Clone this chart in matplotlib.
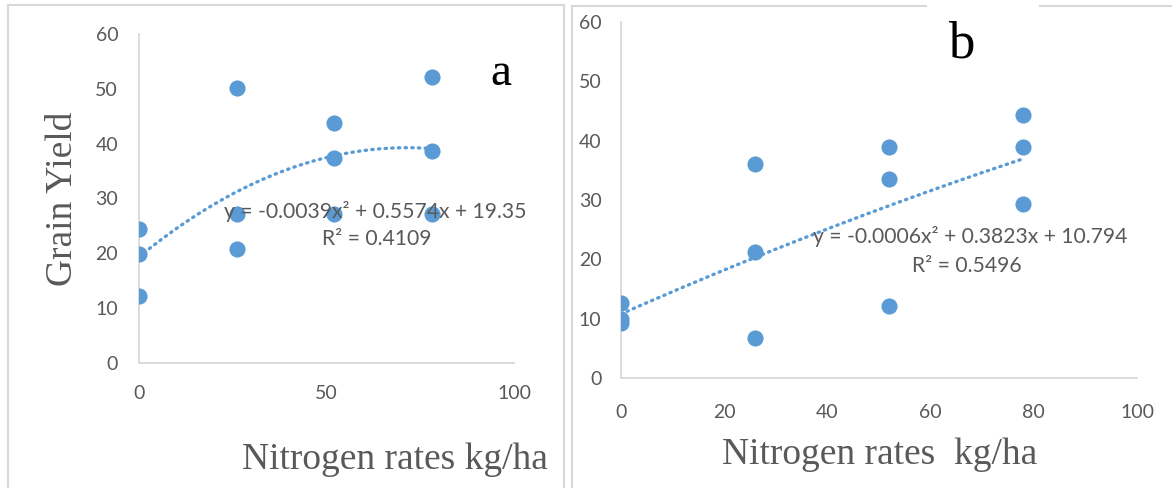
import numpy as np
import matplotlib.pyplot as plt
from matplotlib.lines import Line2D

# datos
n_rate = [0, 0, 0, 26, 26, 26, 52, 52, 52, 78, 78, 78]
yield_a = [24.4, 19.8, 12.3, 50.2, 27.1, 20.8, 43.8, 37.3, 27.1, 52.1, 38.6, 27.1]
yield_b = [12.6, 10.0, 9.2, 36.0, 21.2, 6.7, 39.0, 33.5, 12.2, 44.4, 39.0, 29.4]

# coeficientes de la linea de tendencia (polinomio grado 2)
coef_a = [-0.0039, 0.5574, 19.35]
coef_b = [-0.0006, 0.3823, 10.794]
eq_a = "y = -0.0039x² + 0.5574x + 19.35"
r2_a = "R² = 0.4109"
eq_b = "y = -0.0006x² + 0.3823x + 10.794"
r2_b = "R² = 0.5496"

xticks_a = [0, 50, 100]
xticks_b = [0, 20, 40, 60, 80, 100]
yticks = [0, 10, 20, 30, 40, 50, 60]

W, H = 1172, 488
azul = "#5b9bd5"
gris = "#595959"
borde = "#d9d9d9"

fig = plt.figure(figsize=(W / 100, H / 100), dpi=100)


def px(x0, y0, x1, y1):
    # caja en pixeles -> fraccion de figura
    return [x0 / W, 1 - y1 / H, (x1 - x0) / W, (y1 - y0) / H]


def panel(rect, y, coef, xticks, xpad, ypad):
    ax = fig.add_axes(rect)
    ax.scatter(n_rate, y, s=135, color=azul, zorder=3, linewidths=0)
    xs = np.linspace(0, 78, 200)
    ax.plot(xs, np.polyval(coef, xs), color=azul, lw=2.4,
            linestyle=(0, (0.4, 1.6)), dash_capstyle="round", zorder=2)
    ax.set_xlim(0, 100)
    ax.set_ylim(0, 60)
    ax.set_xticks(xticks)
    ax.set_yticks(yticks)
    ax.tick_params(length=0, labelsize=14, labelcolor=gris)
    ax.tick_params(axis="x", pad=xpad)
    ax.tick_params(axis="y", pad=ypad)
    for lab in ax.get_xticklabels() + ax.get_yticklabels():
        lab.set_family("Lato")
    for s in ["top", "right"]:
        ax.spines[s].set_visible(False)
    for s in ["left", "bottom"]:
        ax.spines[s].set_color(borde)
        ax.spines[s].set_linewidth(1.3)
    ax.patch.set_alpha(0)
    return ax


ax1 = panel(px(139, 34, 514, 363), yield_a, coef_a, xticks_a, 16, 15)
ax2 = panel(px(621, 22, 1137, 378), yield_b, coef_b, xticks_b, 19, 14)


def ftext(x, y, s, **kw):
    fig.text(x / W, 1 - y / H, s, ha="center", va="center", **kw)


ftext(375, 211, eq_a, size=15.2, color=gris, family="Lato")
ftext(377, 239, r2_a, size=15.2, color=gris, family="Lato")
ftext(970, 237, eq_b, size=15.2, color=gris, family="Lato")
ftext(967, 266, r2_b, size=15.2, color=gris, family="Lato")

ftext(395, 460, "Nitrogen rates kg/ha", size=27, color=gris, family="Liberation Serif")
ftext(880, 455, "Nitrogen rates  kg/ha", size=27, color=gris, family="Liberation Serif")
ftext(63, 199, "Grain Yield", size=27, color=gris, family="Liberation Serif", rotation=90)
ftext(501, 74, "a", size=34, color="black", family="Liberation Serif")
ftext(961, 45, "b", size=38, color="black", family="Liberation Serif")

# bordes de los paneles
def linea(xx, yy):
    fig.add_artist(Line2D([v / W for v in xx], [1 - v / H for v in yy],
                          color=borde, lw=1.5))


linea([8, 8], [5, H])
linea([8, 564], [5, 5])
linea([564, 564], [5, H])
linea([572, 572], [6, H])
linea([572, 926], [6, 6])
linea([1040, W], [6, 6])

fig.savefig("out.png", dpi=100)
